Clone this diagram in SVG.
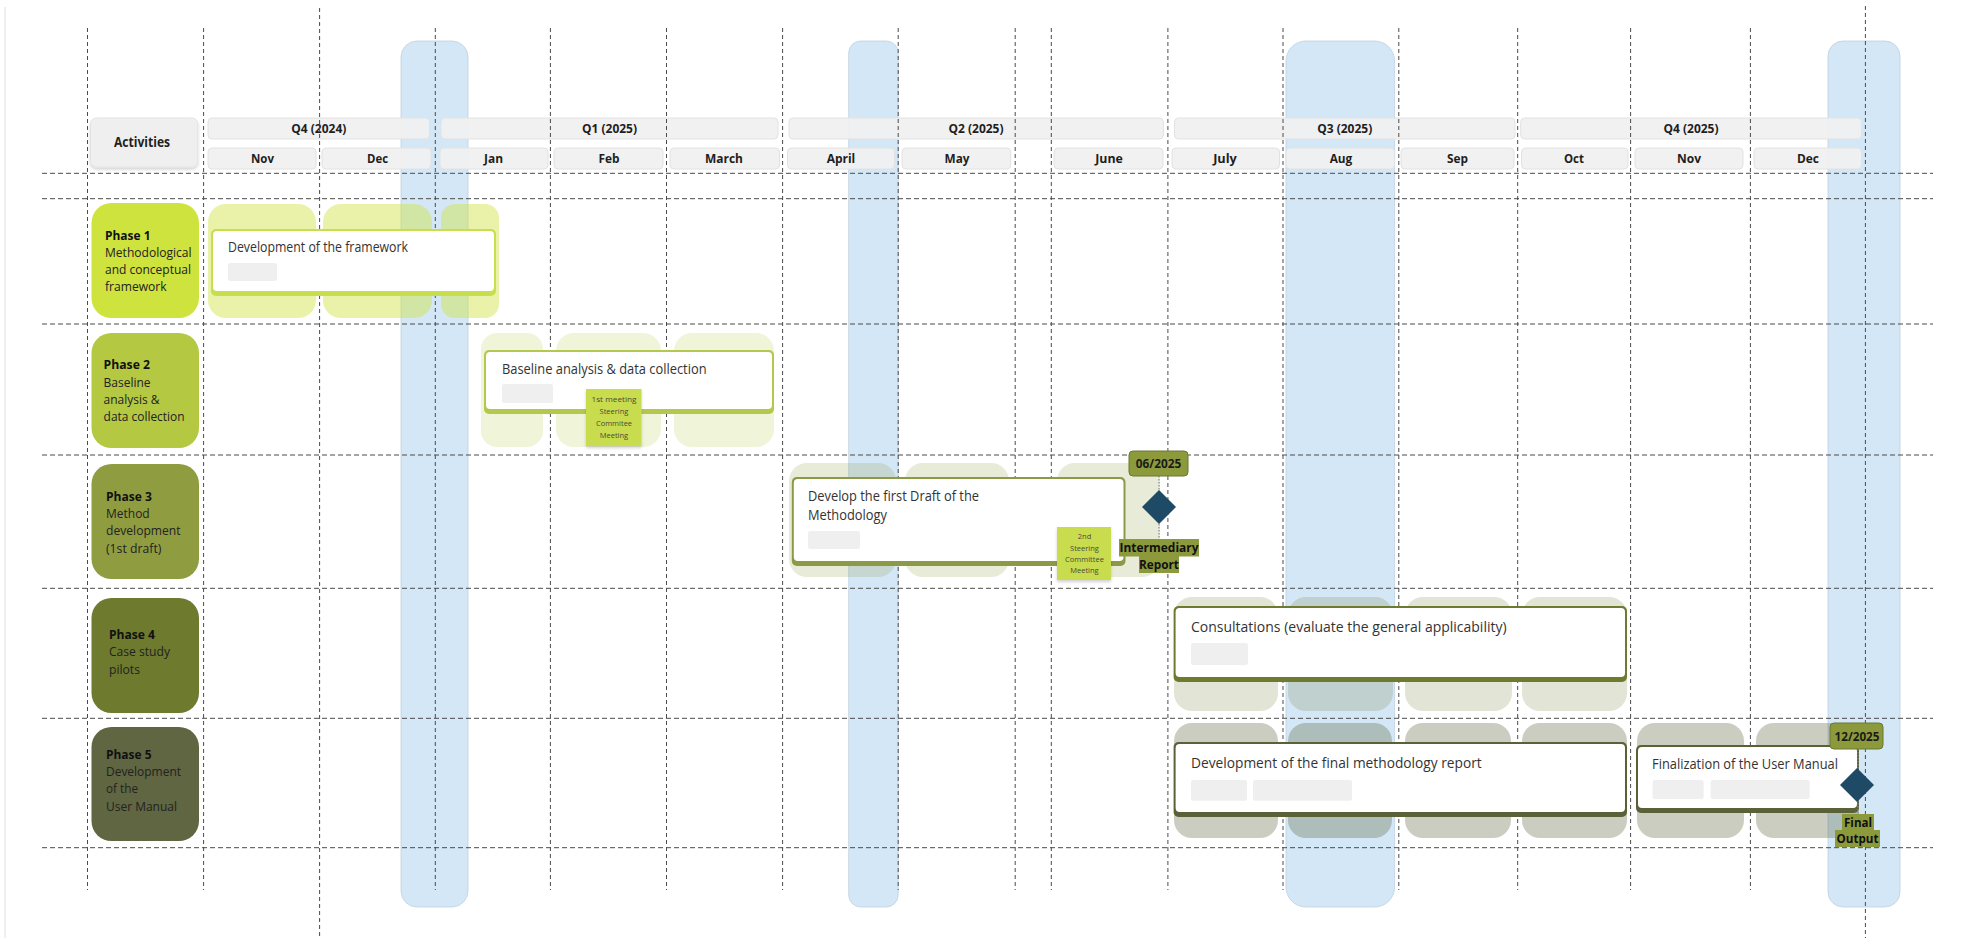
<svg xmlns="http://www.w3.org/2000/svg" width="1968" height="938" viewBox="0 0 1968 938">
  <defs>
    <style>
      text { font-family: "Open Sans", "Liberation Sans", sans-serif; }
      .hdr { fill: #f0f0f0; fill-opacity: 0.93; stroke: #e2e2e2; stroke-width: 1; }
      .hdrtxt { font-size: 13px; font-weight: 700; fill: #1e1e1e; text-anchor: middle; }
      .band { fill: #d4e7f7; stroke: #bfd0e0; stroke-width: 0.8; }
      .gv { stroke: #4a4a4a; stroke-width: 1; stroke-dasharray: 4 3; fill: none; }
      .gh { stroke: #4a4a4a; stroke-width: 1; stroke-dasharray: 5 3; fill: none; }
      .ptitle { font-size: 12.5px; font-weight: 700; fill: #111; }
      .pbody { font-size: 12.5px; fill: #222; }
      .ctxt { font-size: 14px; fill: #333; }
      .ph { fill: #efefef; }
      .sticky { fill: #c9dc4e; }
      .stxt { font-size: 7.5px; fill: #4a4a3a; text-anchor: middle; }
      .date { fill: #8c9a3c; stroke: #6b7630; stroke-width: 1; }
      .dtxt { font-size: 12px; font-weight: 700; fill: #1a1a1a; text-anchor: middle; }
      .lbl { fill: #8c9a3c; }
      .ltxt { font-size: 13px; font-weight: 700; fill: #111; text-anchor: middle; }
      .dia { fill: #1f4a66; }
      .stem { stroke: #8a8a8a; stroke-width: 1.2; stroke-dasharray: 1.5 1.5; fill: none; }
    </style>
    <filter id="soft" x="-10%" y="-10%" width="130%" height="140%">
      <feDropShadow dx="0" dy="2" stdDeviation="1.5" flood-color="#000" flood-opacity="0.18"/>
    </filter>
  </defs>

  <rect x="0" y="0" width="1968" height="938" fill="#ffffff"/>
  <line x1="5" y1="7" x2="5" y2="938" stroke="#e4e4e4" stroke-width="1.2"/>

  <!-- highlighted months -->
  <g id="bands">
    <rect class="band" x="401" y="41" width="67" height="866" rx="16"/>
    <rect class="band" x="848.7" y="41" width="49.5" height="866" rx="12"/>
    <rect class="band" x="1286" y="41" width="108.6" height="866" rx="20"/>
    <rect class="band" x="1828" y="41" width="72" height="866" rx="15"/>
  </g>

  <!-- timeline header -->
  <g id="header">
    <rect class="hdr" x="90.6" y="118" width="107.2" height="49" rx="6" filter="url(#soft)"/>
    <text x="142" y="147" style="font-size:14px;font-weight:700;fill:#1e1e1e;text-anchor:middle" textLength="56" lengthAdjust="spacingAndGlyphs">Activities</text>

    <rect class="hdr" x="208" y="118" width="221.5" height="21" rx="4"/>
    <rect class="hdr" x="441" y="118" width="337" height="21" rx="4"/>
    <rect class="hdr" x="789" y="118" width="374.4" height="21" rx="4"/>
    <rect class="hdr" x="1174.5" y="118" width="340.5" height="21" rx="4"/>
    <rect class="hdr" x="1520.7" y="118" width="340.9" height="21" rx="4"/>
    <text class="hdrtxt" x="318.8" y="133" textLength="55" lengthAdjust="spacingAndGlyphs">Q4 (2024)</text>
    <text class="hdrtxt" x="609.5" y="133" textLength="55" lengthAdjust="spacingAndGlyphs">Q1 (2025)</text>
    <text class="hdrtxt" x="976" y="133" textLength="55" lengthAdjust="spacingAndGlyphs">Q2 (2025)</text>
    <text class="hdrtxt" x="1344.7" y="133" textLength="55" lengthAdjust="spacingAndGlyphs">Q3 (2025)</text>
    <text class="hdrtxt" x="1691" y="133" textLength="55" lengthAdjust="spacingAndGlyphs">Q4 (2025)</text>

    <rect class="hdr" x="208" y="148" width="108" height="21" rx="4"/>
    <rect class="hdr" x="322" y="148" width="109" height="21" rx="4"/>
    <rect class="hdr" x="440" y="148" width="108" height="21" rx="4"/>
    <rect class="hdr" x="554" y="148" width="109" height="21" rx="4"/>
    <rect class="hdr" x="670" y="148" width="109.5" height="21" rx="4"/>
    <rect class="hdr" x="787.5" y="148" width="107" height="21" rx="4"/>
    <rect class="hdr" x="902" y="148" width="108.7" height="21" rx="4"/>
    <rect class="hdr" x="1054" y="148" width="109" height="21" rx="4"/>
    <rect class="hdr" x="1172" y="148" width="107.5" height="21" rx="4"/>
    <rect class="hdr" x="1286" y="148" width="108.6" height="21" rx="4"/>
    <rect class="hdr" x="1401" y="148" width="113" height="21" rx="4"/>
    <rect class="hdr" x="1521.5" y="148" width="106.5" height="21" rx="4"/>
    <rect class="hdr" x="1635" y="148" width="108" height="21" rx="4"/>
    <rect class="hdr" x="1754" y="148" width="107.6" height="21" rx="4"/>
    <text class="hdrtxt" x="262.5" y="163" textLength="23" lengthAdjust="spacingAndGlyphs">Nov</text>
    <text class="hdrtxt" x="377.5" y="163" textLength="21" lengthAdjust="spacingAndGlyphs">Dec</text>
    <text class="hdrtxt" x="493.5" y="163" textLength="19" lengthAdjust="spacingAndGlyphs">Jan</text>
    <text class="hdrtxt" x="609" y="163" textLength="21" lengthAdjust="spacingAndGlyphs">Feb</text>
    <text class="hdrtxt" x="724" y="163" textLength="38" lengthAdjust="spacingAndGlyphs">March</text>
    <text class="hdrtxt" x="841" y="163" textLength="28.6" lengthAdjust="spacingAndGlyphs">April</text>
    <text class="hdrtxt" x="957" y="163" textLength="25" lengthAdjust="spacingAndGlyphs">May</text>
    <text class="hdrtxt" x="1109" y="163" textLength="27.7" lengthAdjust="spacingAndGlyphs">June</text>
    <text class="hdrtxt" x="1225" y="163" textLength="23.7" lengthAdjust="spacingAndGlyphs">July</text>
    <text class="hdrtxt" x="1341" y="163" textLength="22.6" lengthAdjust="spacingAndGlyphs">Aug</text>
    <text class="hdrtxt" x="1457.5" y="163" textLength="21" lengthAdjust="spacingAndGlyphs">Sep</text>
    <text class="hdrtxt" x="1574" y="163" textLength="20" lengthAdjust="spacingAndGlyphs">Oct</text>
    <text class="hdrtxt" x="1689" y="163" textLength="24" lengthAdjust="spacingAndGlyphs">Nov</text>
    <text class="hdrtxt" x="1808" y="163" textLength="22" lengthAdjust="spacingAndGlyphs">Dec</text>
  </g>

  <!-- month slots occupied by each phase -->
  <g id="slots">
    <g fill="#cee33d" fill-opacity="0.45">
      <rect x="208" y="204" width="108" height="114" rx="18"/>
      <rect x="323" y="204" width="109" height="114" rx="18"/>
      <rect x="441" y="204" width="58" height="114" rx="14"/>
    </g>
    <g fill="#b5c842" fill-opacity="0.2">
      <rect x="481" y="333" width="62" height="114" rx="16"/>
      <rect x="556" y="333" width="105" height="114" rx="18"/>
      <rect x="674" y="333" width="100" height="114" rx="18"/>
    </g>
    <g fill="#8f9d40" fill-opacity="0.2">
      <rect x="789" y="463" width="107" height="114" rx="18"/>
      <rect x="905" y="463" width="104" height="114" rx="18"/>
      <rect x="1057" y="463" width="103" height="114" rx="18"/>
    </g>
    <g fill="#6e7a2d" fill-opacity="0.2">
      <rect x="1174" y="597" width="104" height="114" rx="18"/>
      <rect x="1288" y="597" width="105" height="114" rx="18"/>
      <rect x="1405" y="597" width="107" height="114" rx="18"/>
      <rect x="1522" y="597" width="105" height="114" rx="18"/>
    </g>
    <g fill="#5f6641" fill-opacity="0.33">
      <rect x="1174" y="723" width="104" height="115" rx="18"/>
      <rect x="1288" y="723" width="104" height="115" rx="18"/>
      <rect x="1405" y="723" width="106" height="115" rx="18"/>
      <rect x="1522" y="723" width="105" height="115" rx="18"/>
      <rect x="1637" y="723" width="107" height="115" rx="18"/>
      <rect x="1756" y="723" width="103" height="115" rx="18"/>
    </g>
  </g>

  <!-- dashed grid -->
  <g id="grid">
    <line class="gv" x1="87.5" y1="28" x2="87.5" y2="890"/>
    <line class="gv" x1="203.6" y1="28" x2="203.6" y2="890"/>
    <line class="gv" x1="319.6" y1="8" x2="319.6" y2="938"/>
    <line class="gv" x1="435.3" y1="28" x2="435.3" y2="890"/>
    <line class="gv" x1="550.4" y1="28" x2="550.4" y2="890"/>
    <line class="gv" x1="666.5" y1="28" x2="666.5" y2="890"/>
    <line class="gv" x1="782.6" y1="28" x2="782.6" y2="890"/>
    <line class="gv" x1="898.2" y1="28" x2="898.2" y2="890"/>
    <line class="gv" x1="1015.2" y1="28" x2="1015.2" y2="890"/>
    <line class="gv" x1="1051.3" y1="28" x2="1051.3" y2="890"/>
    <line class="gv" x1="1167.9" y1="28" x2="1167.9" y2="890"/>
    <line class="gv" x1="1283" y1="28" x2="1283" y2="890"/>
    <line class="gv" x1="1398.8" y1="28" x2="1398.8" y2="890"/>
    <line class="gv" x1="1517.7" y1="28" x2="1517.7" y2="890"/>
    <line class="gv" x1="1630.6" y1="28" x2="1630.6" y2="890"/>
    <line class="gv" x1="1750.4" y1="28" x2="1750.4" y2="890"/>
    <line class="gv" x1="1865.4" y1="6" x2="1865.4" y2="938"/>
    <line class="gh" x1="42" y1="173.3" x2="1933" y2="173.3"/>
    <line class="gh" x1="42" y1="198.7" x2="1933" y2="198.7"/>
    <line class="gh" x1="42" y1="324" x2="1933" y2="324"/>
    <line class="gh" x1="42" y1="455" x2="1933" y2="455"/>
    <line class="gh" x1="42" y1="588.3" x2="1933" y2="588.3"/>
    <line class="gh" x1="42" y1="718.3" x2="1933" y2="718.3"/>
    <line class="gh" x1="42" y1="847.7" x2="1933" y2="847.7"/>
  </g>

  <!-- phase labels -->
  <g id="phase1">
    <rect x="91.5" y="203" width="107.5" height="115" rx="20" fill="#cee33d"/>
    <text class="ptitle" x="105" y="239.5" textLength="45.5" lengthAdjust="spacingAndGlyphs">Phase 1</text>
    <text class="pbody" x="105" y="257" textLength="86.6" lengthAdjust="spacingAndGlyphs">Methodological</text>
    <text class="pbody" x="105" y="274" textLength="86" lengthAdjust="spacingAndGlyphs">and conceptual</text>
    <text class="pbody" x="105" y="291" textLength="61.6" lengthAdjust="spacingAndGlyphs">framework</text>
  </g>
  <g id="phase2">
    <rect x="91.5" y="333" width="107.5" height="115" rx="20" fill="#b5c842"/>
    <text class="ptitle" x="103.6" y="369" textLength="46.4" lengthAdjust="spacingAndGlyphs">Phase 2</text>
    <text class="pbody" x="103.6" y="386.5" textLength="47" lengthAdjust="spacingAndGlyphs">Baseline</text>
    <text class="pbody" x="103.6" y="404" textLength="56" lengthAdjust="spacingAndGlyphs">analysis &amp;</text>
    <text class="pbody" x="103.6" y="421" textLength="81" lengthAdjust="spacingAndGlyphs">data collection</text>
  </g>
  <g id="phase3">
    <rect x="91.5" y="464" width="107.5" height="115" rx="20" fill="#8f9d40"/>
    <text class="ptitle" x="106" y="500.5" textLength="46" lengthAdjust="spacingAndGlyphs">Phase 3</text>
    <text class="pbody" x="106" y="518" textLength="43.7" lengthAdjust="spacingAndGlyphs">Method</text>
    <text class="pbody" x="106" y="535" textLength="74.6" lengthAdjust="spacingAndGlyphs">development</text>
    <text class="pbody" x="106" y="552.5" textLength="55.4" lengthAdjust="spacingAndGlyphs">(1st draft)</text>
  </g>
  <g id="phase4">
    <rect x="91.5" y="598" width="107.5" height="115" rx="20" fill="#6e7a2d"/>
    <text class="ptitle" x="109" y="638.5" textLength="46" lengthAdjust="spacingAndGlyphs">Phase 4</text>
    <text class="pbody" x="109" y="656" textLength="61" lengthAdjust="spacingAndGlyphs">Case study</text>
    <text class="pbody" x="109" y="673.5" textLength="31" lengthAdjust="spacingAndGlyphs">pilots</text>
  </g>
  <g id="phase5">
    <rect x="91.5" y="727" width="107.5" height="114" rx="20" fill="#5f6641"/>
    <text class="ptitle" x="106" y="758.5" textLength="45.5" lengthAdjust="spacingAndGlyphs">Phase 5</text>
    <text class="pbody" x="106" y="776" textLength="75" lengthAdjust="spacingAndGlyphs">Development</text>
    <text class="pbody" x="106" y="793" textLength="32" lengthAdjust="spacingAndGlyphs">of the</text>
    <text class="pbody" x="106" y="810.5" textLength="71" lengthAdjust="spacingAndGlyphs">User Manual</text>
  </g>

  <!-- activity cards -->
  <g id="task-framework">
    <rect x="211" y="229" width="285" height="67" rx="5" fill="#c9de4c"/>
    <rect x="213" y="231" width="281" height="60" rx="4" fill="#ffffff"/>
    <text class="ctxt" x="228" y="252" textLength="180" lengthAdjust="spacingAndGlyphs">Development of the framework</text>
    <rect class="ph" x="228" y="263" width="49" height="18" rx="2"/>
  </g>
  <g id="task-baseline">
    <rect x="484" y="350" width="290" height="64" rx="5" fill="#b5c74c"/>
    <rect x="486" y="352" width="286" height="57" rx="4" fill="#ffffff"/>
    <text class="ctxt" x="502" y="374" textLength="204.6" lengthAdjust="spacingAndGlyphs">Baseline analysis &amp; data collection</text>
    <rect class="ph" x="502" y="384" width="51" height="19" rx="2"/>
  </g>
  <g id="task-draft">
    <rect x="791.8" y="477" width="333.7" height="89" rx="5" fill="#8d9a45"/>
    <rect x="793.8" y="479" width="329.7" height="82" rx="4" fill="#ffffff"/>
    <text class="ctxt" x="808" y="501" textLength="171" lengthAdjust="spacingAndGlyphs">Develop the first Draft of the</text>
    <text class="ctxt" x="808" y="519.5" textLength="79" lengthAdjust="spacingAndGlyphs">Methodology</text>
    <rect class="ph" x="808" y="531" width="52" height="18" rx="2"/>
  </g>
  <g id="task-consultations">
    <rect x="1173.6" y="606" width="453.4" height="76" rx="5" fill="#6e7a2d"/>
    <rect x="1175.6" y="608" width="449.4" height="69" rx="4" fill="#ffffff"/>
    <text class="ctxt" x="1191" y="632" textLength="315.6" lengthAdjust="spacingAndGlyphs">Consultations (evaluate the general applicability)</text>
    <rect class="ph" x="1191" y="643" width="57" height="22" rx="2"/>
  </g>
  <g id="task-final-report">
    <rect x="1173.6" y="742" width="453.4" height="75" rx="5" fill="#5a6139"/>
    <rect x="1175.6" y="744" width="449.4" height="68" rx="4" fill="#ffffff"/>
    <text class="ctxt" x="1191" y="768" textLength="290.7" lengthAdjust="spacingAndGlyphs">Development of the final methodology report</text>
    <rect class="ph" x="1191" y="780" width="56" height="20.7" rx="2"/>
    <rect class="ph" x="1253" y="780" width="99" height="20.7" rx="2"/>
  </g>
  <g id="task-user-manual">
    <rect x="1636" y="745" width="223" height="68" rx="5" fill="#5a6139"/>
    <rect x="1638" y="747" width="219" height="61" rx="4" fill="#ffffff"/>
    <text class="ctxt" x="1652" y="769" textLength="186" lengthAdjust="spacingAndGlyphs">Finalization of the User Manual</text>
    <rect class="ph" x="1652.6" y="780" width="51" height="19" rx="2"/>
    <rect class="ph" x="1710.7" y="780" width="99" height="19" rx="2"/>
  </g>

  <!-- steering committee notes -->
  <g id="note-meeting1">
    <rect class="sticky" x="586" y="389" width="55.5" height="57" filter="url(#soft)"/>
    <text class="stxt" x="614" y="402" textLength="45" lengthAdjust="spacingAndGlyphs">1st meeting</text>
    <text class="stxt" x="614" y="414">Steering</text>
    <text class="stxt" x="614" y="426">Commitee</text>
    <text class="stxt" x="614" y="438">Meeting</text>
  </g>
  <g id="note-meeting2">
    <rect class="sticky" x="1057" y="527" width="54" height="53" filter="url(#soft)"/>
    <text class="stxt" x="1084.5" y="539">2nd</text>
    <text class="stxt" x="1084.5" y="551">Steering</text>
    <text class="stxt" x="1084.5" y="562">Committee</text>
    <text class="stxt" x="1084.5" y="573">Meeting</text>
  </g>

  <!-- milestone stems -->
  <g id="connectors">
    <line class="stem" x1="1159" y1="476" x2="1159" y2="539"/>
    <line class="stem" x1="1858" y1="749" x2="1858" y2="814"/>
  </g>

  <!-- milestones -->
  <g id="milestone-intermediary">
    <rect class="date" x="1129" y="451" width="59" height="25" rx="4"/>
    <text class="dtxt" x="1158.5" y="468" textLength="45.5" lengthAdjust="spacingAndGlyphs">06/2025</text>
    <polygon class="dia" points="1159,490 1176,507 1159,524 1142,507"/>
    <rect class="lbl" x="1119" y="539" width="80" height="17.5"/>
    <rect class="lbl" x="1139" y="556" width="40" height="17"/>
    <text class="ltxt" x="1159" y="552" textLength="79" lengthAdjust="spacingAndGlyphs">Intermediary</text>
    <text class="ltxt" x="1159" y="569" textLength="40" lengthAdjust="spacingAndGlyphs">Report</text>
  </g>
  <g id="milestone-final">
    <rect class="date" x="1830" y="723" width="53" height="26" rx="4"/>
    <text class="dtxt" x="1857" y="741" textLength="45" lengthAdjust="spacingAndGlyphs">12/2025</text>
    <polygon class="dia" points="1857,768 1874,785 1857,802 1840,785"/>
    <rect class="lbl" x="1842" y="814" width="32" height="16.5"/>
    <rect class="lbl" x="1835" y="830" width="45" height="17"/>
    <text class="ltxt" x="1858" y="826.5" textLength="28" lengthAdjust="spacingAndGlyphs">Final</text>
    <text class="ltxt" x="1857.5" y="843" textLength="42" lengthAdjust="spacingAndGlyphs">Output</text>
  </g>
</svg>
